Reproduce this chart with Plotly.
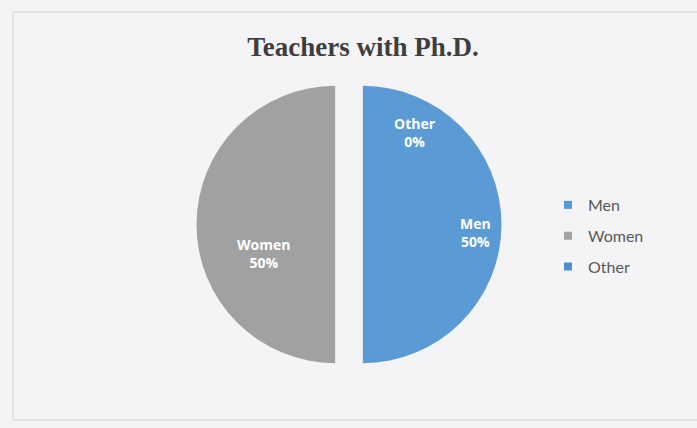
import plotly.graph_objects as go

# ---- data ----
categories = ["Men", "Women", "Other"]
values = [50, 50, 0]
colors = ["#5B9BD5", "#A1A1A1", "#4F8CCB"]
title_text = "Teachers with Ph.D."

total = sum(values)
percents = [round(100 * v / total) for v in values]

W, H = 697, 428

def px(x):
    return x / W

def py(y):
    return (H - y) / H

fig = go.Figure()

fig.add_trace(go.Pie(
    labels=categories,
    values=values,
    marker=dict(colors=colors, line=dict(width=0)),
    sort=False,
    direction="clockwise",
    rotation=0,
    pull=[0.1, 0.1, 0.1],
    textinfo="none",
    hoverinfo="label+percent",
    showlegend=False,
    domain=dict(x=[px(196), px(502)], y=[py(377), py(72)]),
))

# legend entries (one per category)
for name, col in zip(categories, colors):
    fig.add_trace(go.Scatter(
        x=[None], y=[None], mode="markers", name=name,
        legendgroup=name,
        marker=dict(symbol="square", size=8, color=col),
    ))

# slice labels
label_pos = {"Men": (475, 232), "Women": (263, 253), "Other": (415, 133)}
annotations = []
for name, pct in zip(categories, percents):
    x, y = label_pos[name]
    annotations.append(dict(
        x=px(x), y=py(y), xref="paper", yref="paper",
        text=f"{name}<br>{pct}%", showarrow=False,
        font=dict(family="Open Sans", size=14, color="white", weight="bold"),
        align="center", xanchor="center", yanchor="middle",
    ))

fig.update_layout(
    width=W, height=H,
    margin=dict(l=0, r=0, t=0, b=0),
    paper_bgcolor="#F4F4F6",
    plot_bgcolor="rgba(0,0,0,0)",
    title=dict(
        text=title_text, x=px(363), xanchor="center",
        y=py(47), yref="container", yanchor="middle",
        font=dict(family="Liberation Serif", size=27, color="#3E3E3E", weight="bold"),
    ),
    xaxis=dict(visible=False),
    yaxis=dict(visible=False),
    legend=dict(
        x=px(548), y=py(188), xanchor="left", yanchor="top",
        font=dict(family="Lato", size=16, color="#595959"),
        tracegroupgap=7,
        bgcolor="rgba(0,0,0,0)",
    ),
    annotations=annotations,
    shapes=[dict(
        type="rect", xref="paper", yref="paper",
        x0=px(13), x1=1.02, y0=py(420), y1=py(12),
        line=dict(color="#D2D2D6", width=1), layer="below",
    )],
)

fig.write_html(
    "out.html",
    config={"displayModeBar": False},
    post_script="document.body.style.margin='0';",
)
